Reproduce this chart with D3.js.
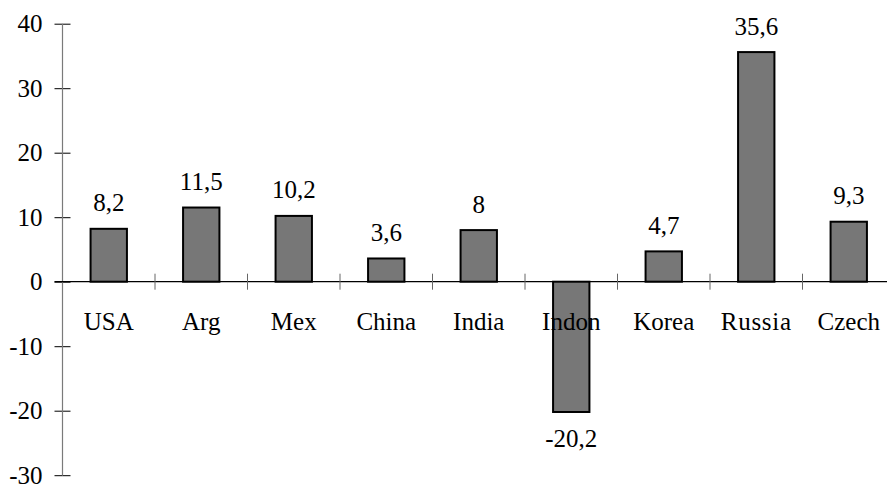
<!DOCTYPE html>
<html>
<head>
<meta charset="utf-8">
<script src="https://cdn.jsdelivr.net/npm/d3@7/dist/d3.min.js"></script>
<style>
  html, body { margin: 0; padding: 0; background: #fff; }
  svg { display: block; }
  text { font-family: "Liberation Serif", "Times New Roman", serif; fill: #000; }
</style>
</head>
<body>
<svg id="chart" width="887" height="486"></svg>
<script>
// Country categories and their values (percent)
const categories = ["USA", "Arg", "Mex", "China", "India", "Indon", "Korea", "Russia", "Czech"];
const values = [8.2, 11.5, 10.2, 3.6, 8, -20.2, 4.7, 35.6, 9.3];
const yTicks = [-30, -20, -10, 0, 10, 20, 30, 40];

const data = categories.map((c, i) => ({ cat: c, value: values[i] }));

const width = 887, height = 486;
const svg = d3.select("#chart");

const x = d3.scaleBand().domain(categories).range([62.5, 895]).padding(0);
const y = d3.scaleLinear().domain([-30, 40]).range([475.2, 23.7]);

const fontSize = 25;
const serif = "Liberation Serif, Times New Roman, serif";
const y0 = y(0);
const axisX = x.range()[0];

// Y axis: grey spine, ticks crossing the spine
const yAxis = svg.append("g")
  .attr("transform", `translate(${axisX},0)`)
  .call(d3.axisLeft(y).tickValues(yTicks).tickSize(8).tickPadding(12)
    .tickFormat(d => String(d)));
yAxis.attr("font-family", serif);
yAxis.select(".domain").remove();
yAxis.append("line")
  .attr("x1", 0).attr("x2", 0)
  .attr("y1", y(40)).attr("y2", y(-30))
  .attr("stroke", "#7a7a7a").attr("stroke-width", 1.2);
yAxis.selectAll(".tick line").attr("stroke", "#000").attr("x2", -8);
yAxis.selectAll(".tick").append("line")
  .attr("x1", 0).attr("x2", 8).attr("stroke", "#000");
yAxis.selectAll(".tick text")
  .attr("font-size", fontSize)
  .attr("font-family", serif)
  .attr("dy", "0.33em");

// X axis line at zero
svg.append("line")
  .attr("x1", axisX - 8).attr("x2", width)
  .attr("y1", y0).attr("y2", y0)
  .attr("stroke", "#000").attr("stroke-width", 1.2);

// Category boundary ticks on the zero line
const boundaries = categories.slice(1).map(c => x(c));
svg.append("g").selectAll("line")
  .data(boundaries)
  .join("line")
  .attr("x1", d => d).attr("x2", d => d)
  .attr("y1", y0 - 8).attr("y2", y0 + 8)
  .attr("stroke", "#666").attr("stroke-width", 1);

// Bars
const barW = x.bandwidth() * 0.393;
svg.append("g").selectAll("rect")
  .data(data)
  .join("rect")
  .attr("x", d => x(d.cat) + (x.bandwidth() - barW) / 2)
  .attr("y", d => y(Math.max(0, d.value)))
  .attr("width", barW)
  .attr("height", d => Math.abs(y(d.value) - y0))
  .attr("fill", "#777777")
  .attr("stroke", "#000")
  .attr("stroke-width", 2);

// Category labels
svg.append("g").selectAll("text")
  .data(data)
  .join("text")
  .attr("x", d => x(d.cat) + x.bandwidth() / 2)
  .attr("y", y0 + 48.3)
  .attr("text-anchor", "middle")
  .attr("font-family", serif)
  .attr("font-size", fontSize)
  .attr("letter-spacing", d => d.cat === "Russia" ? 0.7 : 0)
  .text(d => d.cat);

// Value labels
svg.append("g").selectAll("text")
  .data(data)
  .join("text")
  .attr("x", d => x(d.cat) + x.bandwidth() / 2)
  .attr("y", d => d.value >= 0 ? y(d.value) - 17.5 : y(d.value) + 35)
  .attr("text-anchor", "middle")
  .attr("font-family", serif)
  .attr("font-size", fontSize)
  .text(d => String(d.value).replace(".", ","));
</script>
</body>
</html>
